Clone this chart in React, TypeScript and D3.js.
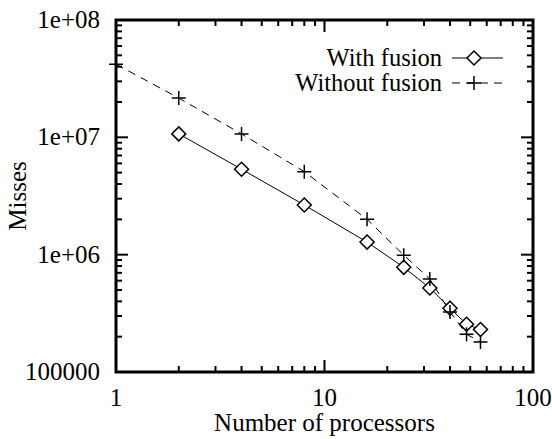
import * as d3 from "d3";

const processors = [2, 4, 8, 16, 24, 32, 40, 48, 56];
const withFusion = [1.07e7, 5.35e6, 2.65e6, 1.28e6, 7.8e5, 5.2e5, 3.5e5, 2.55e5, 2.3e5];
const procsNoFusion = [1, 2, 4, 8, 16, 24, 32, 40, 48, 56];
const withoutFusion = [4.2e7, 2.16e7, 1.07e7, 5.1e6, 2.0e6, 9.9e5, 6.2e5, 3.25e5, 2.1e5, 1.8e5];
const xTickLabels = ["1", "10", "100"];
const yTickLabels = ["100000", "1e+06", "1e+07", "1e+08"];

const W = 552;
const H = 439;
const left = 116, right = 533, top = 20, bottom = 372;
const font = '"Liberation Serif", Times, "Times New Roman", serif';

const x = d3.scaleLog().domain([1, 100]).range([left, right]);
const y = d3.scaleLog().domain([1e5, 1e8]).range([bottom, top]);

const xMajor = [1, 10, 100];
const yMajor = [1e5, 1e6, 1e7, 1e8];
const xMinor = d3.range(0, 2).flatMap((e) => d3.range(2, 10).map((m) => m * 10 ** e));
const yMinor = d3.range(5, 8).flatMap((e) => d3.range(2, 10).map((m) => m * 10 ** e));

const diamond = (cx: number, cy: number, r = 7) =>
  `M${cx},${cy - r}L${cx + r},${cy}L${cx},${cy + r}L${cx - r},${cy}Z`;
const cross = (cx: number, cy: number, r = 7) =>
  `M${cx - r},${cy}H${cx + r}M${cx},${cy - r}V${cy + r}`;

export default function App() {
  const lineGen = d3.line<[number, number]>().x((d) => x(d[0])).y((d) => y(d[1]));
  const fusionPts: [number, number][] = processors.map((p, i) => [p, withFusion[i]]);
  const noFusionPts: [number, number][] = procsNoFusion.map((p, i) => [p, withoutFusion[i]]);
  const major = 12, minor = 6;
  const ts = { fontFamily: font, fontSize: 25 };
  const ls = { fontFamily: font, fontSize: 24.5 };

  return (
    <svg width={W} height={H} style={{ position: "absolute", left: 0, top: 0, background: "#fff" }}>
      <g stroke="#000" strokeWidth={2}>
        {xMajor.map((v) => (
          <g key={"xm" + v}>
            <line x1={x(v)} x2={x(v)} y1={bottom} y2={bottom - major} />
            <line x1={x(v)} x2={x(v)} y1={top} y2={top + major} />
          </g>
        ))}
        {xMinor.map((v) => (
          <g key={"xn" + v}>
            <line x1={x(v)} x2={x(v)} y1={bottom} y2={bottom - minor} />
            <line x1={x(v)} x2={x(v)} y1={top} y2={top + minor} />
          </g>
        ))}
        {yMajor.map((v) => (
          <g key={"ym" + v}>
            <line x1={left} x2={left + major} y1={y(v)} y2={y(v)} />
            <line x1={right} x2={right - major} y1={y(v)} y2={y(v)} />
          </g>
        ))}
        {yMinor.map((v) => (
          <g key={"yn" + v}>
            <line x1={left} x2={left + minor} y1={y(v)} y2={y(v)} />
            <line x1={right} x2={right - minor} y1={y(v)} y2={y(v)} />
          </g>
        ))}
      </g>
      <rect x={left} y={top} width={right - left} height={bottom - top} fill="none" stroke="#000" strokeWidth={3} />

      <g fill="#000">
        {xMajor.map((v, i) => (
          <text key={"xl" + v} style={ts} x={x(v)} y={bottom + 34} textAnchor="middle">{xTickLabels[i]}</text>
        ))}
        {yMajor.map((v, i) => (
          <text key={"yl" + v} style={ts} x={100} y={y(v) + 8} textAnchor="end">{yTickLabels[i]}</text>
        ))}
        <text style={ts} x={(left + right) / 2} y={431} textAnchor="middle">Number of processors</text>
        <text style={ts} transform={`translate(26,${(top + bottom) / 2}) rotate(-90)`} textAnchor="middle">Misses</text>
        <text style={ls} x={442} y={66} textAnchor="end">With fusion</text>
        <text style={ls} x={442} y={91} textAnchor="end">Without fusion</text>
      </g>

      <g fill="none" stroke="#000" strokeWidth={1}>
        <path d={lineGen(fusionPts) ?? ""} />
        <path d={lineGen(noFusionPts) ?? ""} strokeDasharray="8,6" />
        {fusionPts.map((d, i) => (
          <path key={"d" + i} d={diamond(x(d[0]), y(d[1]))} fill="#fff" strokeWidth={1.5} />
        ))}
        {noFusionPts.map((d, i) => (
          <path key={"c" + i} d={cross(x(d[0]), y(d[1]))} strokeWidth={1.5} />
        ))}
        <line x1={452} x2={503} y1={58} y2={58} />
        <path d={diamond(474, 58)} fill="#fff" strokeWidth={1.5} />
        <line x1={452} x2={503} y1={83} y2={83} strokeDasharray="8,6" />
        <path d={cross(474, 83)} strokeWidth={1.5} />
      </g>
    </svg>
  );
}
